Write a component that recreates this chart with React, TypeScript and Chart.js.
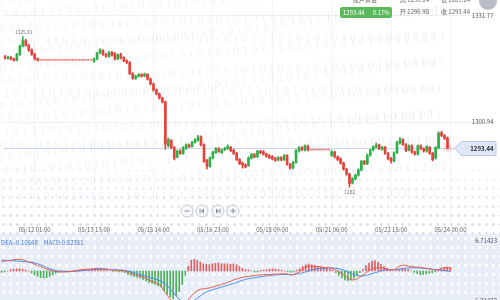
import React, { useEffect, useRef } from 'react';
import { Chart, registerables } from 'chart.js';

Chart.register(...registerables);

// ---------- data ----------
// [open, high, low, close] per slot
const candles: [number, number, number, number][] = [
  [1319.9, 1320.3, 1319.2, 1319.5], [1319.4, 1320.1, 1319.2, 1319.8], [1319.8, 1320.0, 1319.0, 1319.2],
  [1319.3, 1319.5, 1318.6, 1318.8], [1318.9, 1320.9, 1318.7, 1320.6], [1320.5, 1323.3, 1320.3, 1323.0],
  [1323.0, 1325.81, 1322.8, 1324.6], [1324.6, 1325.0, 1323.0, 1323.2], [1323.2, 1323.6, 1321.5, 1321.8],
  [1321.9, 1322.2, 1320.3, 1320.6], [1320.6, 1321.0, 1319.0, 1319.3], [1319.3, 1319.6, 1318.6, 1318.9],
  [1318.9, 1318.9, 1318.9, 1318.9], [1318.9, 1318.9, 1318.9, 1318.9], [1318.9, 1318.9, 1318.9, 1318.9],
  [1318.9, 1318.9, 1318.9, 1318.9], [1318.9, 1318.9, 1318.9, 1318.9], [1318.9, 1318.9, 1318.9, 1318.9],
  [1318.9, 1318.9, 1318.9, 1318.9], [1318.9, 1318.9, 1318.9, 1318.9], [1318.9, 1318.9, 1318.9, 1318.9],
  [1318.9, 1318.9, 1318.9, 1318.9], [1318.9, 1318.9, 1318.9, 1318.9], [1318.9, 1318.9, 1318.9, 1318.9],
  [1318.9, 1318.9, 1318.9, 1318.9], [1318.9, 1318.9, 1318.9, 1318.9], [1318.9, 1318.9, 1318.9, 1318.9],
  [1318.9, 1318.9, 1318.9, 1318.9], [1318.9, 1318.9, 1318.9, 1318.9], [1318.9, 1318.9, 1318.9, 1318.9],
  [1318.6, 1319.5, 1318.3, 1319.3], [1319.2, 1321.2, 1319.0, 1321.0], [1321.0, 1322.3, 1320.8, 1321.9],
  [1321.7, 1322.0, 1320.3, 1320.6], [1320.6, 1320.9, 1319.7, 1320.0], [1320.0, 1321.5, 1319.8, 1321.2],
  [1321.2, 1321.5, 1320.1, 1320.4], [1320.8, 1321.1, 1318.9, 1319.2], [1319.3, 1320.8, 1319.1, 1320.5],
  [1320.6, 1320.9, 1319.3, 1319.6], [1319.7, 1320.0, 1318.5, 1318.7], [1318.8, 1319.0, 1317.9, 1318.2],
  [1318.2, 1318.5, 1314.7, 1315.0], [1315.0, 1315.3, 1313.3, 1313.7], [1313.6, 1314.6, 1313.3, 1314.3],
  [1314.3, 1315.0, 1314.0, 1314.7], [1314.7, 1315.0, 1314.0, 1314.3], [1314.3, 1315.2, 1314.1, 1314.9],
  [1314.8, 1315.0, 1313.1, 1313.4], [1313.4, 1313.7, 1311.7, 1312.0], [1312.0, 1312.3, 1309.9, 1310.2],
  [1310.3, 1310.6, 1308.8, 1309.1], [1309.1, 1309.4, 1307.6, 1307.9], [1307.9, 1308.2, 1306.5, 1306.8],
  [1306.8, 1307.0, 1293.0, 1294.5], [1294.0, 1296.3, 1293.6, 1295.9], [1295.5, 1295.8, 1293.2, 1293.5],
  [1293.5, 1293.8, 1289.9, 1290.5], [1290.8, 1292.8, 1290.5, 1292.5], [1292.5, 1292.9, 1291.5, 1291.8],
  [1291.8, 1293.8, 1291.5, 1293.5], [1293.2, 1294.6, 1293.0, 1294.3], [1294.3, 1294.6, 1293.5, 1293.8],
  [1293.8, 1295.3, 1293.6, 1295.0], [1295.0, 1296.1, 1294.8, 1295.8], [1295.6, 1297.1, 1295.4, 1296.6],
  [1296.6, 1296.9, 1294.0, 1294.3], [1294.3, 1294.6, 1289.2, 1289.5], [1289.8, 1290.1, 1287.3, 1288.0],
  [1288.0, 1290.8, 1287.8, 1290.5], [1290.5, 1292.5, 1290.2, 1292.2], [1292.0, 1293.5, 1291.8, 1293.2],
  [1293.2, 1293.5, 1292.1, 1292.4], [1292.0, 1293.1, 1291.8, 1292.8], [1292.8, 1293.6, 1292.6, 1293.3],
  [1293.2, 1294.3, 1293.0, 1293.8], [1293.6, 1293.9, 1292.3, 1292.6], [1292.8, 1293.1, 1291.5, 1291.8],
  [1291.8, 1292.1, 1289.7, 1290.0], [1290.0, 1290.3, 1288.5, 1288.8], [1289.0, 1289.3, 1287.5, 1288.4],
  [1288.5, 1288.8, 1287.6, 1287.9], [1288.3, 1290.8, 1288.0, 1290.5], [1290.4, 1291.8, 1290.1, 1291.5],
  [1291.5, 1291.8, 1290.5, 1290.8], [1290.9, 1292.7, 1290.6, 1292.4], [1292.4, 1292.7, 1291.7, 1292.0],
  [1292.3, 1292.6, 1291.3, 1291.6], [1291.6, 1291.9, 1290.7, 1291.0], [1291.2, 1291.5, 1290.3, 1290.6],
  [1290.9, 1291.2, 1289.9, 1290.2], [1290.4, 1290.7, 1289.5, 1289.8], [1289.9, 1290.9, 1289.6, 1290.6],
  [1290.6, 1290.9, 1289.6, 1289.9], [1290.0, 1291.5, 1289.7, 1291.2], [1291.2, 1291.5, 1288.3, 1288.6],
  [1288.6, 1288.9, 1287.2, 1287.6], [1287.6, 1289.5, 1287.3, 1289.2], [1289.2, 1292.9, 1289.0, 1292.6],
  [1292.5, 1293.8, 1292.2, 1293.5], [1293.5, 1293.8, 1292.6, 1292.9], [1292.8, 1294.3, 1292.5, 1294.0],
  [1293.9, 1294.2, 1292.5, 1292.8],
  [1292.8, 1292.8, 1292.8, 1292.8], [1292.8, 1292.8, 1292.8, 1292.8], [1292.8, 1292.8, 1292.8, 1292.8],
  [1292.8, 1292.8, 1292.8, 1292.8], [1292.8, 1292.8, 1292.8, 1292.8], [1292.8, 1292.8, 1292.8, 1292.8],
  [1292.8, 1292.8, 1292.8, 1292.8],
  [1291.2, 1292.6, 1290.9, 1292.3], [1292.2, 1292.5, 1290.5, 1290.8], [1290.8, 1291.1, 1289.7, 1290.0],
  [1290.2, 1290.5, 1288.7, 1289.0], [1289.0, 1289.3, 1286.9, 1287.2], [1287.2, 1287.5, 1285.5, 1285.8],
  [1285.8, 1286.1, 1282.0, 1283.0], [1283.2, 1284.8, 1282.9, 1284.5], [1284.4, 1285.8, 1284.1, 1285.5],
  [1285.5, 1287.3, 1285.2, 1287.0], [1287.0, 1289.8, 1286.7, 1289.5], [1289.5, 1289.8, 1288.5, 1288.8],
  [1288.8, 1291.6, 1288.5, 1291.3], [1291.3, 1293.1, 1291.0, 1292.8], [1292.8, 1294.0, 1292.5, 1293.7],
  [1293.6, 1294.8, 1293.3, 1294.2], [1294.2, 1294.5, 1292.9, 1293.2], [1293.0, 1293.9, 1292.7, 1293.6],
  [1293.6, 1293.9, 1291.5, 1291.8], [1291.8, 1292.1, 1289.9, 1290.2], [1290.4, 1290.7, 1289.0, 1289.6],
  [1289.6, 1292.3, 1289.3, 1292.0], [1292.0, 1295.3, 1291.7, 1295.0], [1294.8, 1296.4, 1294.5, 1295.8],
  [1295.8, 1296.1, 1294.1, 1294.4], [1294.4, 1294.7, 1292.3, 1292.6], [1292.8, 1294.3, 1292.5, 1294.0],
  [1294.0, 1294.3, 1291.9, 1292.2], [1292.2, 1292.5, 1291.3, 1291.6], [1291.6, 1294.3, 1291.3, 1294.0],
  [1294.0, 1294.3, 1292.9, 1293.2], [1293.2, 1293.5, 1292.2, 1292.5], [1292.5, 1294.1, 1292.2, 1293.8],
  [1293.6, 1293.9, 1291.5, 1291.8], [1291.8, 1292.1, 1289.6, 1290.0], [1290.4, 1293.8, 1290.1, 1293.5],
  [1293.4, 1298.1, 1293.1, 1297.8], [1297.8, 1298.3, 1296.7, 1297.0], [1297.0, 1297.3, 1295.9, 1296.2],
  [1296.3, 1296.6, 1293.2, 1293.44],
];

const slotCount = 166;
const timeTicks = ['05/12 01:00', '05/13 13:00', '05/15 14:00', '05/16 23:00', '05/18 09:00', '05/21 06:00', '05/22 15:00', '05/24 00:00'];
const timeTickFirst = 10;
const timeTickStep = 20;
const priceTicks = [1331.77, 1300.94];
const priceMin = 1272.15;
const priceMax = 1336.42;
const lastPrice = 1293.44;

const difValues = [
  2.2, 2.2, 2.3, 2.4, 2.5, 2.6, 2.6, 2.5, 2.3, 2.0,
  1.8, 1.5, 1.2, 1.0, 0.7, 0.4, 0.2, 0.0, -0.1, -0.2,
  -0.2, -0.2, -0.2, -0.1, 0.0, 0.1, 0.2, 0.3, 0.4, 0.4,
  0.5, 0.5, 0.6, 0.6, 0.5, 0.4, 0.3, 0.2, 0.2, 0.1,
  0.1, 0.0, -0.3, -0.6, -0.8, -1.0, -1.2, -1.4, -1.7, -2.0,
  -2.3, -2.6, -2.9, -3.3, -4.5, -5.4, -6.3, -7.2, -7.8, -8.0,
  -7.8, -7.2, -6.4, -5.6, -4.9, -4.4, -4.1, -4.0, -3.9, -3.8,
  -3.6, -3.4, -3.2, -3.0, -2.8, -2.6, -2.3, -2.0, -1.8, -1.6,
  -1.4, -1.3, -1.2, -1.1, -1.0, -0.9, -0.9, -0.8, -0.8, -0.8,
  -0.7, -0.7, -0.7, -0.6, -0.6, -0.7, -0.9, -0.8, -0.5, -0.2,
  0.5, 1.0, 1.1, 1.1, 1.0, 1.0, 0.9, 0.8, 0.8, 0.7,
  0.6, 0.3, -0.2, -0.6, -1.1, -1.6, -2.0, -2.0, -1.8, -1.3,
  -0.9, -0.4, 0.1, 0.5, 0.7, 0.7, 0.7, 0.6, 0.5, 0.3,
  0.2, 0.5, 1.0, 1.3, 1.3, 1.1, 1.0, 0.9, 0.9, 0.8,
  0.7, 0.6, 0.5, 0.3, 0.2, 0.3, 0.6, 0.8, 0.75, 0.65,
];
const deaValues = [
  2.4, 2.4, 2.35, 2.3, 2.3, 2.25, 2.2, 2.15, 2.1, 2.0,
  2.0, 1.8, 1.6, 1.4, 1.1, 0.8, 0.5, 0.3, 0.1, 0.0,
  0.0, -0.1, -0.1, -0.1, -0.1, 0.0, 0.0, 0.1, 0.2, 0.2,
  0.3, 0.3, 0.4, 0.4, 0.4, 0.4, 0.3, 0.3, 0.3, 0.2,
  0.2, 0.1, 0.0, -0.2, -0.4, -0.6, -0.8, -1.0, -1.2, -1.4,
  -1.6, -1.8, -2.0, -2.3, -2.7, -3.3, -4.0, -4.8, -5.6, -6.3,
  -6.8, -7.1, -7.2, -7.0, -6.6, -6.1, -5.6, -5.1, -4.7, -4.4,
  -4.2, -4.0, -3.8, -3.6, -3.4, -3.2, -3.0, -2.8, -2.6, -2.3,
  -2.1, -1.9, -1.7, -1.6, -1.5, -1.4, -1.3, -1.2, -1.1, -1.0,
  -0.9, -0.9, -0.8, -0.8, -0.8, -0.8, -0.8, -0.8, -0.7, -0.6,
  -0.4, -0.2, 0.0, 0.2, 0.4, 0.5, 0.6, 0.6, 0.7, 0.7,
  0.7, 0.6, 0.5, 0.3, 0.1, -0.2, -0.5, -0.8, -1.0, -1.1,
  -1.1, -1.0, -0.8, -0.6, -0.4, -0.2, 0.0, 0.2, 0.3, 0.3,
  0.3, 0.3, 0.4, 0.5, 0.6, 0.7, 0.7, 0.7, 0.7, 0.7,
  0.6, 0.55, 0.5, 0.4, 0.3, 0.2, 0.15, 0.1, 0.0, -0.105,
];
const macdHist = [
  -0.3, -0.2, 0, 0.3, 0.4, 0.5, 0.5, 0.4, 0.2, 0,
  -0.5, -0.9, -1.2, -1.5, -1.6, -1.5, -1.2, -0.9, -0.5, -0.3,
  -0.2, -0.1, -0.1, 0, 0.1, 0.2, 0.3, 0.3, 0.3, 0.2,
  0.4, 0.5, 0.4, 0.3, 0.2, 0.1, 0, -0.1, -0.1, -0.2,
  -0.2, -0.4, -0.8, -1.0, -1.2, -1.4, -1.6, -1.9, -2.2, -2.6,
  -2.8, -3.0, -3.3, -3.6, -4.4, -5.2, -5.8, -6.2, -5.5, -4.6,
  -3.0, -1.0, 1.0, 2.4, 2.6, 2.4, 2.0, 1.6, 1.5, 1.4,
  1.6, 1.7, 1.8, 1.6, 1.6, 1.6, 1.5, 1.6, 1.4, 1.0,
  0.6, 0.3, 0.2, 0, -0.2, -0.2, 0.2, 0.2, 0.3, 0.4,
  0.5, 0.4, 0.3, 0.2, 0, -0.2, -0.3, -0.2, 0.2, 0.5,
  1.0, 1.4, 1.6, 1.4, 1.2, 1.0, 0.9, 0.8, 0.6, 0.4,
  0.2, -0.4, -1.0, -1.5, -2.0, -2.2, -2.0, -1.6, -1.0, -0.4,
  0.4, 1.2, 1.8, 2.2, 2.3, 2.0, 1.5, 1.0, 0.5, 0.2,
  0, 0.1, 0.4, 0.6, 0.5, 0.3, 0, -0.3, -0.6, -0.8,
  -0.8, -0.6, -0.5, -0.4, -0.2, 0.1, 0.5, 0.8, 0.9, 0.82351,
];
const macdLimit = 6.71423;
const macdLegend = { dea: -0.10548, macd: 0.82351 };
const quote = { price: 1293.44, change: '0.17%', open: 1290.98, close: 1293.44, high: 1290.14, low: 1289.14 };

// ---------- styles ----------
const FONT = "'Noto Sans CJK SC', 'Noto Sans', sans-serif";
const UP = '#2fb14a';
const DOWN = '#e5433d';
const FLAT = '#f08782';

const watermarkPlugin = {
  id: 'watermark',
  beforeDatasetsDraw(chart: any) {
    const { ctx, chartArea } = chart;
    ctx.save();
    ctx.font = '12px serif';
    ctx.fillStyle = 'rgba(150,160,190,0.12)';
    const row = '0 1 0 1 0 1 0 1 0 1 0 1 0 1 0 1 0 1 0 1 0 1 0 1 0 1 0 1 0 1 0 1 0 1 0 1 0 1 0 1 0 1 0 1 0 1 0 1 0 1';
    for (let r = 0; r < 16; r++) {
      ctx.save();
      ctx.translate(-10 + (r % 3) * 5, chartArea.top + 6 + r * 13);
      ctx.rotate(-0.1 + (r % 4) * 0.03);
      ctx.fillText(row, 0, 0);
      ctx.restore();
    }
    ctx.restore();
  },
};

const annotatePlugin = {
  id: 'annotate',
  beforeDatasetsDraw(chart: any) {
    const { ctx, scales, chartArea } = chart;
    const y = Math.round(scales.y.getPixelForValue(lastPrice)) + 0.5;
    ctx.save();
    ctx.strokeStyle = '#c9d6ef';
    ctx.lineWidth = 1;
    ctx.beginPath();
    ctx.moveTo(chartArea.left, y);
    ctx.lineTo(chartArea.right - 40, y);
    ctx.stroke();
    ctx.restore();
  },
  afterDatasetsDraw(chart: any) {
    const { ctx, scales, chartArea } = chart;
    const xs = scales.x;
    const ys = scales.y;
    ctx.save();
    // price axis labels
    ctx.font = `6px ${FONT}`;
    ctx.fillStyle = '#555';
    ctx.textAlign = 'right';
    ctx.textBaseline = 'middle';
    priceTicks.forEach((v) => ctx.fillText(v.toFixed(2), chartArea.right - 3, ys.getPixelForValue(v)));

    // high / low labels
    let hi = 0, lo = 0;
    candles.forEach((c, i) => {
      if (c[1] > candles[hi][1]) hi = i;
      if (c[2] < candles[lo][2]) lo = i;
    });
    ctx.font = `5px ${FONT}`;
    ctx.fillStyle = '#777';
    ctx.textAlign = 'center';
    ctx.textBaseline = 'bottom';
    ctx.fillText(String(candles[hi][1]), xs.getPixelForValue(hi) + 1, ys.getPixelForValue(candles[hi][1]) - 2);
    ctx.textBaseline = 'top';
    ctx.fillText(String(candles[lo][2]), xs.getPixelForValue(lo), ys.getPixelForValue(candles[lo][2]) + 2);

    // glow on last candle
    const li = candles.length - 1;
    const gx = xs.getPixelForValue(li);
    const gy = ys.getPixelForValue(lastPrice);
    const g = ctx.createRadialGradient(gx, gy, 0, gx, gy, 6);
    g.addColorStop(0, 'rgba(240,60,60,0.35)');
    g.addColorStop(1, 'rgba(240,60,60,0)');
    ctx.fillStyle = g;
    ctx.beginPath();
    ctx.arc(gx, gy, 6, 0, Math.PI * 2);
    ctx.fill();

    // current price box
    const py = Math.round(ys.getPixelForValue(lastPrice)) + 0.5;
    const right = chartArea.right - 0.5;
    const left = chartArea.right - 42;
    ctx.beginPath();
    ctx.moveTo(left, py);
    ctx.lineTo(left + 7, py - 7);
    ctx.lineTo(right, py - 7);
    ctx.lineTo(right, py + 7);
    ctx.lineTo(left + 7, py + 7);
    ctx.closePath();
    ctx.fillStyle = '#dfe7f6';
    ctx.strokeStyle = '#b9c9e8';
    ctx.lineWidth = 1;
    ctx.fill();
    ctx.stroke();
    ctx.fillStyle = '#2d2d2d';
    ctx.font = `bold 6px ${FONT}`;
    ctx.textAlign = 'right';
    ctx.textBaseline = 'middle';
    ctx.fillText(lastPrice.toFixed(2), chartArea.right - 3, py);
    ctx.restore();
  },
};

const macdLabelPlugin = {
  id: 'macdLabels',
  afterDatasetsDraw(chart: any) {
    const { ctx, scales, chartArea } = chart;
    ctx.save();
    ctx.font = `6px ${FONT}`;
    ctx.fillStyle = '#555';
    ctx.textAlign = 'right';
    ctx.textBaseline = 'middle';
    [macdLimit, -macdLimit].forEach((v) => ctx.fillText(Math.abs(v).toFixed(5), chartArea.right - 3, scales.y.getPixelForValue(v)));
    ctx.restore();
  },
};

const Btn = ({ x, kind }: { x: number; kind: string }) => (
  <svg width={14} height={14} style={{ position: 'absolute', left: x - 7, top: 204 }}>
    <circle cx={7} cy={7} r={6} fill="#f7f8fb" stroke="#c3c8d4" strokeWidth={1} />
    {kind === 'minus' && <line x1={4.5} y1={7} x2={9.5} y2={7} stroke="#8a90a0" strokeWidth={1} />}
    {kind === 'plus' && (
      <g stroke="#8a90a0" strokeWidth={1}>
        <line x1={4.5} y1={7} x2={9.5} y2={7} />
        <line x1={7} y1={4.5} x2={7} y2={9.5} />
      </g>
    )}
    {kind === 'prev' && (
      <g fill="#8a90a0" stroke="#8a90a0" strokeWidth={1}>
        <line x1={5} y1={4.5} x2={5} y2={9.5} />
        <path d="M9 4.5 L6 7 L9 9.5 Z" stroke="none" />
      </g>
    )}
    {kind === 'next' && (
      <g fill="#8a90a0" stroke="#8a90a0" strokeWidth={1}>
        <line x1={9} y1={4.5} x2={9} y2={9.5} />
        <path d="M5 4.5 L8 7 L5 9.5 Z" stroke="none" />
      </g>
    )}
  </svg>
);

export default function App() {
  const mainRef = useRef<HTMLCanvasElement>(null);
  const macdRef = useRef<HTMLCanvasElement>(null);

  useEffect(() => {
    const labels = Array.from({ length: slotCount }, (_, i) => String(i));
    const colors = candles.map(([o, h, l, c]) => (h === l ? FLAT : c > o ? UP : DOWN));
    const isTimeTick = (i: number) => i >= timeTickFirst && (i - timeTickFirst) % timeTickStep === 0 && (i - timeTickFirst) / timeTickStep < timeTicks.length;

    const main = new Chart(mainRef.current!, {
      type: 'bar',
      data: {
        labels,
        datasets: [
          {
            data: candles.map(([, h, l]) => [l, h]) as any,
            backgroundColor: colors,
            barThickness: 1,
            grouped: false,
            order: 2,
          } as any,
          {
            data: candles.map(([o, , , c]) => [o, c]) as any,
            backgroundColor: colors,
            barThickness: 2,
            minBarLength: 1,
            grouped: false,
            order: 1,
          } as any,
        ],
      },
      options: {
        animation: false,
        responsive: false,
        maintainAspectRatio: false,
        layout: { padding: 0 },
        plugins: { legend: { display: false }, tooltip: { enabled: false } },
        scales: {
          x: {
            offset: true,
            border: { display: false },
            afterFit: (s: any) => { s.height = 12; },
            grid: {
              offset: false,
              drawTicks: false,
              color: (c: any) => (isTimeTick(c.index) ? 'rgba(120,130,160,0.08)' : 'rgba(0,0,0,0)'),
            },
            ticks: {
              autoSkip: false,
              maxRotation: 0,
              minRotation: 0,
              padding: 5,
              color: '#666',
              font: { size: 6, family: FONT },
              callback: (_v: any, i: number) => (isTimeTick(i) ? timeTicks[(i - timeTickFirst) / timeTickStep] : ''),
            },
          },
          y: {
            position: 'right',
            min: priceMin,
            max: priceMax,
            border: { display: false },
            afterFit: (s: any) => { s.width = 0; },
            afterBuildTicks: (s: any) => { s.ticks = priceTicks.map((value) => ({ value })); },
            grid: { drawTicks: false, color: 'rgba(120,130,160,0.12)' },
            ticks: { display: false },
          },
        },
      } as any,
      plugins: [watermarkPlugin, annotatePlugin],
    });

    const macd = new Chart(macdRef.current!, {
      type: 'bar',
      data: {
        labels,
        datasets: [
          {
            type: 'line',
            data: difValues,
            borderColor: '#ea5a4f',
            borderWidth: 1,
            pointRadius: 0,
            order: 1,
          } as any,
          {
            type: 'line',
            data: deaValues,
            borderColor: '#4a8cf0',
            borderWidth: 1,
            pointRadius: 0,
            order: 2,
          } as any,
          {
            type: 'bar',
            data: macdHist,
            backgroundColor: macdHist.map((v) => (v >= 0 ? '#e45c5c' : '#4cb35a')),
            barThickness: 1,
            order: 3,
          } as any,
        ],
      },
      options: {
        animation: false,
        responsive: false,
        maintainAspectRatio: false,
        layout: { padding: { top: 5, bottom: 5, left: 0, right: 0 } },
        plugins: { legend: { display: false }, tooltip: { enabled: false } },
        scales: {
          x: { display: false, offset: true },
          y: {
            display: false,
            min: -macdLimit,
            max: macdLimit,
          },
        },
      } as any,
      plugins: [macdLabelPlugin],
    });

    return () => {
      main.destroy();
      macd.destroy();
    };
  }, []);

  const txt: React.CSSProperties = { position: 'absolute', fontSize: 6, color: '#666', whiteSpace: 'nowrap', lineHeight: '8px' };

  return (
    <div style={{ position: 'fixed', left: 0, top: 0, width: 500, height: 300, overflow: 'hidden', background: '#fff', fontFamily: FONT }}>
      {/* dotted backgrounds */}
      <div
        style={{
          position: 'absolute', left: 0, top: 166, width: 500, height: 68,
          backgroundImage: 'radial-gradient(circle, rgba(175,188,218,0.55) 1px, rgba(175,188,218,0) 1.6px)',
          backgroundSize: '7px 9px',
          WebkitMaskImage: 'linear-gradient(to bottom, rgba(0,0,0,0.2), rgba(0,0,0,1))',
        }}
      />
      <div
        style={{
          position: 'absolute', left: 0, top: 234, width: 500, height: 66,
          background: '#e8eef8',
          backgroundImage: 'radial-gradient(circle, rgba(255,255,255,0.95) 1.4px, rgba(255,255,255,0) 2px)',
          backgroundSize: '7px 9px',
        }}
      />
      <canvas ref={mainRef} width={500} height={233} style={{ position: 'absolute', left: 0, top: 0 }} />
      <canvas ref={macdRef} width={500} height={70} style={{ position: 'absolute', left: 0, top: 236 }} />

      {/* top quote header */}
      <div style={{ ...txt, left: 353, top: -4 }}>账户黄金</div>
      <div style={{ ...txt, left: 400, top: -4 }}>高 {quote.high.toFixed(2)}</div>
      <div style={{ ...txt, left: 441, top: -4 }}>低 {quote.low.toFixed(2)}</div>
      <div style={{ position: 'absolute', left: 340, top: 7, width: 52, height: 11, background: '#5cb85c', borderRadius: 2, color: '#fff', fontSize: 6, lineHeight: '11px', whiteSpace: 'nowrap' }}>
        <span style={{ marginLeft: 3 }}>{quote.price.toFixed(2)}</span>
        <span style={{ marginLeft: 8 }}>{quote.change}</span>
      </div>
      <div style={{ ...txt, left: 400, top: 8 }}>开 {quote.open.toFixed(2)}</div>
      <div style={{ ...txt, left: 441, top: 8 }}>收 {quote.close.toFixed(2)}</div>
      <div style={{ position: 'absolute', left: 479, top: -8, width: 18, height: 18, borderRadius: 9, background: '#b8bcc6' }} />

      {/* zoom buttons */}
      <Btn x={187} kind="minus" />
      <Btn x={202} kind="prev" />
      <Btn x={218} kind="next" />
      <Btn x={233} kind="plus" />

      {/* MACD legend */}
      <div style={{ position: 'absolute', left: 1, top: 239, fontSize: 6, lineHeight: '8px', color: '#4a7fd6', whiteSpace: 'nowrap' }}>
        <span>DEA:{macdLegend.dea.toFixed(5)}</span>
        <span style={{ marginLeft: 6 }}>MACD:{macdLegend.macd.toFixed(5)}</span>
      </div>
    </div>
  );
}
